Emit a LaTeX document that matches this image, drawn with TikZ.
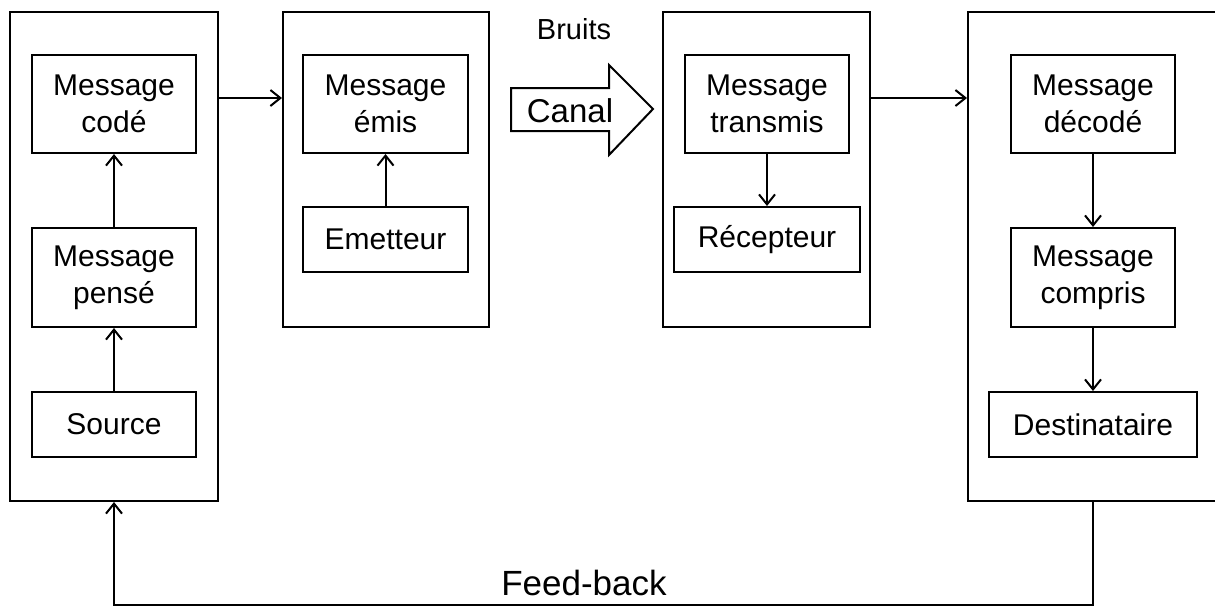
\documentclass[tikz,border=0pt]{standalone}
\usepackage{fontspec}
\setmainfont{Liberation Sans}
\usetikzlibrary{arrows.meta}

\begin{document}
\begin{tikzpicture}[x=0.5pt, y=-0.5pt, line width=1pt, >={Straight Barb[length=5pt,width=8pt]},
    block/.style={rectangle, draw, inner sep=0pt},
    box/.style={rectangle, draw, align=center, inner sep=0pt, font=\fontsize{15}{18.5}\selectfont}]
    \clip (0,0) rectangle (1215,606);

    % the four stages
    \node[block, minimum width=104pt, minimum height=244.5pt] (sender) at (114,256.5) {};
    \node[block, minimum width=103pt, minimum height=157.5pt] (sending) at (386,169.5) {};
    \node[block, minimum width=103.5pt, minimum height=157.5pt] (receiving) at (766.5,169.5) {};
    \node[block, minimum width=146pt, minimum height=244.5pt] (receiver) at (1114,256.5) {};

    \node[box, minimum width=82pt, minimum height=49pt] (coded) at (114,104) {Message\\codé};
    \node[box, minimum width=82pt, minimum height=49.5pt] (thought) at (114,277.5) {Message\\pensé};
    \node[box, minimum width=82pt, minimum height=32.5pt] (source) at (114,424.5) {Source};

    \node[box, minimum width=82.5pt, minimum height=49pt] (emitted) at (385.5,104) {Message\\émis};
    \node[box, minimum width=82.5pt, minimum height=32.5pt] (emitter) at (385.5,239.5) {Emetteur};

    \node[box, minimum width=82pt, minimum height=49pt] (transmitted) at (767,104) {Message\\transmis};
    \node[box, minimum width=93pt, minimum height=32.5pt] (recept) at (767,239.5) {Récepteur};

    \node[box, minimum width=82pt, minimum height=49pt] (decoded) at (1093,104) {Message\\décodé};
    \node[box, minimum width=82pt, minimum height=49.5pt] (understood) at (1093,277.5) {Message\\compris};
    \node[box, minimum width=104pt, minimum height=32.5pt] (recipient) at (1093,424.5) {Destinataire};

    % channel
    \draw (511,88) -- (609,88) -- (609,65) -- (653,109) -- (609,155) -- (609,131) -- (511,131) -- cycle;
    \node[anchor=base, inner sep=0pt, font=\fontsize{16.5}{18}\selectfont] (canal) at (570,122) {Canal};
    \node[anchor=base, inner sep=0pt, font=\fontsize{14.5}{17}\selectfont] (noise) at (574,39) {Bruits};

    \draw[->] (source) -- (thought);
    \draw[->] (thought) -- (coded);
    \draw[->] (emitter) -- (emitted);
    \draw[->] (transmitted) -- (recept);
    \draw[->] (decoded) -- (understood);
    \draw[->] (understood) -- (recipient);

    \draw[->] ([yshift=3pt]coded.east -| sender.east) -- ([yshift=3pt]coded.east -| sending.west);
    \draw[->] ([yshift=3pt]transmitted.east -| receiving.east) -- ([yshift=3pt]transmitted.east -| receiver.west);

    % feed-back loop
    \coordinate (back) at (0,604.5);
    \draw[->] (recipient |- receiver.south) -- (recipient |- back) -- (sender.south |- back) -- (sender.south);
    \node[anchor=base, inner sep=0pt, font=\fontsize{17.5}{20}\selectfont] (feedback) at (584,595) {Feed-back};
\end{tikzpicture}
\end{document}
